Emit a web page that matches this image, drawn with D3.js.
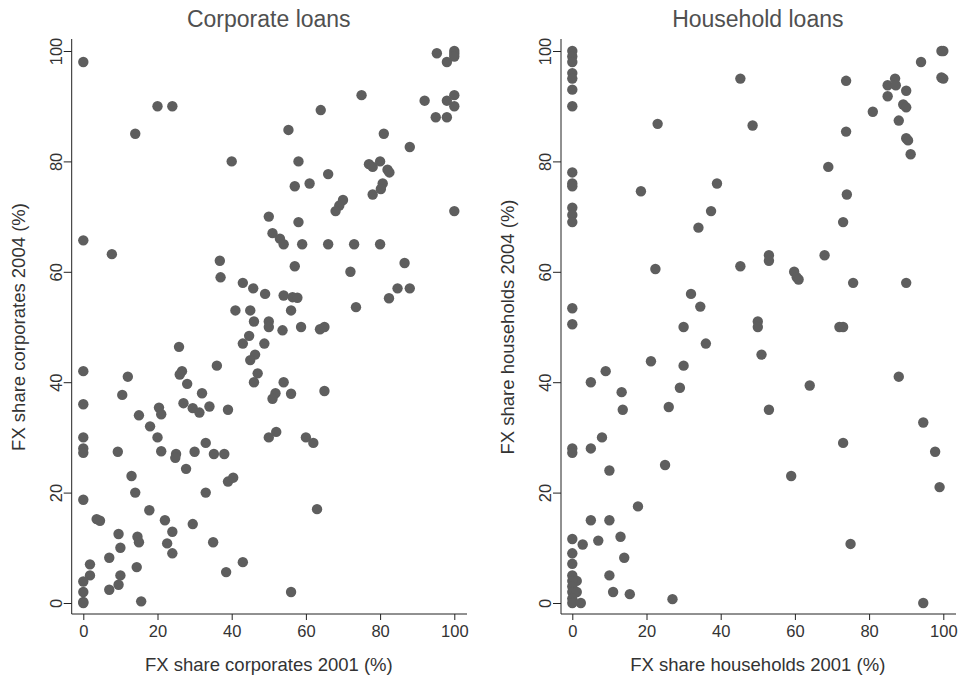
<!DOCTYPE html>
<html>
<head>
<meta charset="utf-8">
<script src="https://cdn.jsdelivr.net/npm/d3@7"></script>
<style>
  body { margin: 0; background: #fff; }
  text { font-family: "Liberation Sans", Arial, sans-serif; fill: #333; }
</style>
</head>
<body>
<div id="chart"></div>
<script>
// Panel titles and axis labels
var titles = ["Corporate loans", "Household loans"];
var xLabels = ["FX share corporates 2001 (%)", "FX share households 2001 (%)"];
var yLabels = ["FX share corporates 2004 (%)", "FX share households 2004 (%)"];
var tickValues = [0, 20, 40, 60, 80, 100];

// Corporate loans: share in 2001 vs 2004
var corpX = [0, 14, 20, 24, 40, 50, 95.3, 100, 100, 100, 98, 75, 64, 55.3, 92, 98, 100, 100, 95, 98,
  81, 88, 58, 66, 57, 61, 77, 78, 80, 82, 82.5, 80.7, 80.2, 78, 70, 69, 68, 58, 100, 0,
  7.7, 36.8, 37, 43, 45.8, 49, 51, 41, 45, 46, 44.7, 43, 48.8, 25.8, 46.3, 45, 36, 47, 46, 0,
  12, 26.6, 26, 28, 10.5, 32, 0, 20.4, 21, 15, 27, 29.5, 31.3, 34, 39, 53, 54, 59, 66, 73,
  80, 86.6, 57, 72, 84.7, 88, 82.4, 73.5, 54, 56.4, 57.7, 56, 50, 50, 53.7, 58.7, 63.8, 65, 54, 51.8,
  51, 56, 65, 0, 0, 0, 9.3, 18, 20, 21, 25, 24.8, 30, 33, 35.2, 38, 50, 27.7, 13, 14,
  33, 39, 40.4, 0, 3.6, 4.5, 17.8, 22, 29.5, 24, 9.5, 14.6, 15, 10, 22.6, 24, 35, 7, 1.8, 1.8,
  14.4, 10, 43, 38.5, 0, 0, 7, 9.5, 0, 0, 15.6, 52, 60, 62, 63, 56];
var corpY = [98, 85, 90, 90, 80, 70, 99.6, 100, 99.5, 99, 98, 92, 89.3, 85.7, 91, 91, 92, 90, 88, 88,
  85, 82.6, 80, 77.7, 75.5, 76, 79.5, 79, 80, 78.5, 78, 76, 75, 74, 73, 72, 71, 69, 71, 65.7,
  63.2, 62, 59, 58, 57, 56, 67, 53, 53, 51, 48.4, 47, 47, 46.4, 45, 44, 43, 41.6, 40, 42,
  41, 42, 41.4, 39.7, 37.7, 38, 36, 35.4, 34.2, 34, 36.2, 35.3, 34.5, 35.6, 35, 66, 65, 65, 65, 65,
  65, 61.6, 61, 60, 57, 57, 55.2, 53.6, 55.7, 55.4, 55.3, 53, 51, 50, 49.4, 50, 49.6, 50, 40, 38,
  37, 37.9, 38.4, 30, 28, 27.2, 27.4, 32, 30, 27.5, 27, 26.3, 27.4, 29, 27, 27, 30, 24.3, 23, 20,
  20, 22, 22.7, 18.7, 15.2, 14.9, 16.8, 15, 14.3, 12.9, 12.5, 12, 11, 10, 10.8, 9, 11, 8.2, 7, 5,
  6.5, 5, 7.4, 5.6, 3.9, 2, 2.4, 3.3, 0.2, 0, 0.3, 31, 30, 29, 17, 2];

// Household loans: share in 2001 vs 2004
var hhX = [0, 0, 0, 0, 0, 0, 0, 45.3, 23, 48.6, 0, 0, 0, 18.5, 39, 37.4, 0, 0, 0, 34,
  100, 99.5, 94, 100, 99.5, 73.8, 87, 85, 87.2, 90, 85, 89.2, 90, 81, 88, 73.8, 90, 90.5, 91.2, 69,
  74, 73, 22.4, 45.3, 0, 0, 32, 34.5, 30, 36, 21.2, 30, 9, 5, 29, 13.3, 13.6, 26, 53, 53,
  68, 59.8, 60.5, 61, 75.7, 90, 50, 50, 72, 73, 51, 88, 64, 53, 8, 0, 0, 5, 25, 10,
  17.7, 5, 10, 0, 2.8, 7, 13, 0, 14, 0, 0, 1.2, 0, 10, 0, 0, 1.2, 11, 15.5, 27,
  0, 0, 2.3, 94.6, 73, 97.8, 59, 99, 75, 94.6];
var hhY = [100, 99, 98, 96, 95, 93, 90, 95, 86.8, 86.5, 78, 76, 75.5, 74.6, 76, 71, 71.6, 70.3, 69, 68,
  100, 100, 98, 95, 95.2, 94.6, 95, 93.8, 93.8, 92.8, 91.8, 90.3, 89.8, 89, 87.4, 85.4, 84.2, 83.8, 81.3, 79,
  74, 69, 60.5, 61, 53.4, 50.5, 56, 53.7, 50, 47, 43.8, 43, 42, 40, 39, 38.2, 35, 35.5, 63, 62,
  63, 60, 59, 58.6, 58, 58, 51, 50, 50, 50, 45, 41, 39.4, 35, 30, 28, 27.2, 28, 25, 24,
  17.5, 15, 15, 11.6, 10.6, 11.3, 12, 9, 8.2, 7.1, 5, 4, 4, 5, 3, 2, 2, 2, 1.6, 0.7,
  0.8, 0, 0, 32.7, 29, 27.4, 23, 21, 10.7, 0];

var width = 963;
var height = 677;
var dotColor = "#5e5e5e";

var svg = d3.select("#chart")
  .append("svg")
  .attr("width", width)
  .attr("height", height);

// Panel frames: axis line positions and data area
var panels = [
  { left: 71.7, x0: 83.3, x1: 454.3, right: 467, xs: corpX, ys: corpY },
  { left: 561, x0: 572.3, x1: 943.3, right: 956, xs: hhX, ys: hhY }
];
var plotTop = 39;
var plotBottom = 614;
var y0 = 603;
var y1 = 51;

panels.forEach(function(p, i) {
  var xScale = d3.scaleLinear().domain([0, 100]).range([p.x0, p.x1]);
  var yScale = d3.scaleLinear().domain([0, 100]).range([y0, y1]);
  var cx = (p.x0 + p.x1) / 2;

  var g = svg.append("g");

  // x axis
  var xAxis = g.append("g")
    .attr("transform", "translate(0," + plotBottom + ")")
    .call(d3.axisBottom(xScale).tickValues(tickValues).tickSize(6).tickSizeOuter(0));
  xAxis.select(".domain").remove();
  xAxis.selectAll("line").attr("stroke", "#222");
  xAxis.selectAll("text")
    .attr("font-size", 16.5)
    .attr("y", 11)
    .attr("dy", "0.71em");
  xAxis.append("line")
    .attr("x1", p.left).attr("x2", p.right)
    .attr("stroke", "#222");

  // y axis with vertical tick labels
  var yAxis = g.append("g")
    .attr("transform", "translate(" + p.left + ",0)")
    .call(d3.axisLeft(yScale).tickValues(tickValues).tickSize(8).tickSizeOuter(0));
  yAxis.select(".domain").remove();
  yAxis.selectAll("line").attr("stroke", "#222");
  yAxis.selectAll("text")
    .attr("font-size", 16.5)
    .attr("transform", "rotate(-90)")
    .attr("x", 0)
    .attr("y", -10)
    .attr("dy", 0)
    .attr("text-anchor", "middle");
  yAxis.append("line")
    .attr("y1", plotTop).attr("y2", plotBottom)
    .attr("stroke", "#222");

  // points
  g.selectAll("circle")
    .data(d3.range(p.xs.length))
    .enter()
    .append("circle")
    .attr("cx", function(k) { return xScale(p.xs[k]); })
    .attr("cy", function(k) { return yScale(p.ys[k]); })
    .attr("r", 5.2)
    .attr("fill", dotColor);

  // titles and labels
  g.append("text")
    .attr("x", cx)
    .attr("y", 27)
    .attr("text-anchor", "middle")
    .attr("font-size", 23)
    .style("fill", "#505050")
    .text(titles[i]);

  g.append("text")
    .attr("x", cx)
    .attr("y", 671)
    .attr("text-anchor", "middle")
    .attr("font-size", 18.5)
    .text(xLabels[i]);

  g.append("text")
    .attr("transform", "translate(" + (p.left - 47) + "," + ((y0 + y1) / 2) + ")rotate(-90)")
    .attr("text-anchor", "middle")
    .attr("font-size", 18.5)
    .text(yLabels[i]);
});
</script>
</body>
</html>
